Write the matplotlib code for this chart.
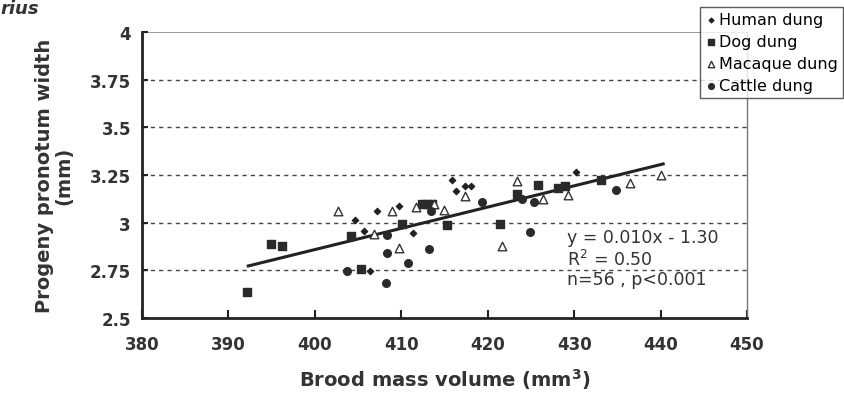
import matplotlib
matplotlib.use("Agg")
import matplotlib.pyplot as plt

# ---- data ----
human_x = [404.6, 405.7, 406.4, 407.2, 409.7, 411.4, 415.9, 416.3, 417.4, 418.1, 430.2]
human_y = [3.014, 2.956, 2.747, 3.060, 3.087, 2.946, 3.224, 3.166, 3.190, 3.192, 3.266]

dog_x = [392.1, 394.9, 396.2, 404.2, 405.3, 410.1, 412.4, 413.0, 413.6, 415.3, 421.4,
         423.4, 425.8, 428.1, 428.9, 433.1]
dog_y = [2.636, 2.888, 2.878, 2.930, 2.757, 2.993, 3.100, 3.100, 3.100, 2.990, 2.993,
         3.150, 3.200, 3.180, 3.190, 3.224]

macaque_x = [402.7, 406.9, 408.9, 409.7, 411.7, 413.8, 414.9, 417.4, 421.7, 423.4,
             426.4, 429.3, 436.5, 440.0]
macaque_y = [3.060, 2.940, 3.060, 2.867, 3.080, 3.100, 3.067, 3.140, 2.878, 3.218,
             3.124, 3.145, 3.210, 3.250]

cattle_x = [403.7, 408.3, 408.3, 408.2, 410.8, 413.2, 413.4, 419.3, 424.0, 424.9,
            425.4, 434.8]
cattle_y = [2.747, 2.935, 2.840, 2.684, 2.790, 2.862, 3.060, 3.108, 3.124, 2.950,
            3.108, 3.170]

trend_x = [392.3, 440.3]
trend_y = [2.773, 3.308]

x_ticks = [380, 390, 400, 410, 420, 430, 440, 450]
y_ticks = [2.5, 2.75, 3.0, 3.25, 3.5, 3.75, 4.0]
y_ticklabels = ["2.5", "2.75", "3", "3.25", "3.5", "3.75", "4"]

labels = ["Human dung", "Dog dung", "Macaque dung", "Cattle dung"]
eq_lines = ["y = 0.010x - 1.30", "R$^2$ = 0.50", "n=56 , p<0.001"]

# ---- figure ----
plt.rcParams['font.family'] = ['DejaVu Sans']
fig = plt.figure(figsize=(8.44, 4.02), dpi=100)
ax = fig.add_axes([142/844, 1 - 319/402, (747-142)/844, (319-33)/402])

ax.set_xlim(380, 450)
ax.set_ylim(2.5, 4.0)

for gy in y_ticks[1:-1]:
    ax.axhline(gy, color='#444444', lw=1.0, ls=(0, (3, 3)), zorder=1)
ax.axhline(4.0, color='#888888', lw=1.2, zorder=1)

ax.plot(trend_x, trend_y, color='#222222', lw=2.2, zorder=3)

h1 = ax.scatter(human_x, human_y, marker='D', s=10, color='#222222', zorder=4)
h2 = ax.scatter(dog_x, dog_y, marker='s', s=30, color='#2a2a2a', zorder=4)
h3 = ax.scatter(macaque_x, macaque_y, marker='^', s=38, facecolor='white',
                edgecolor='#333333', lw=1.0, zorder=4)
h4 = ax.scatter(cattle_x, cattle_y, marker='o', s=30, color='#2a2a2a', zorder=4)

for s in ['left', 'bottom']:
    ax.spines[s].set_linewidth(2.0)
    ax.spines[s].set_color('#222222')
ax.spines['top'].set_visible(False)
ax.spines['right'].set_linewidth(1.0)
ax.spines['right'].set_color('#777777')

ax.set_xticks(x_ticks)
ax.set_yticks(y_ticks)
ax.set_yticklabels(y_ticklabels)
ax.tick_params(axis='x', direction='in', length=6, width=1.5, color='#222222',
               labelsize=12, pad=12)
ax.tick_params(axis='y', direction='in', length=4, width=1.5, color='#222222',
               labelsize=12, pad=8)
for lab in ax.get_xticklabels() + ax.get_yticklabels():
    lab.set_fontweight('bold')
    lab.set_color('#333333')

ax.set_xlabel("Brood mass volume (mm$^\\mathbf{3}$)", fontsize=14, fontweight='bold',
              color='#333333', labelpad=10)
ax.set_ylabel("Progeny pronotum width\n(mm)", fontsize=14, fontweight='bold',
              color='#333333', labelpad=12, linespacing=1.0)

eq_y = [0.283, 0.206, 0.136]
for t, yy in zip(eq_lines, eq_y):
    ax.text(0.702, yy, t, transform=ax.transAxes, fontsize=12.5,
            color='#333333', va='center', ha='left')

leg = fig.legend([h1, h2, h3, h4], labels, loc='upper right',
                 bbox_to_anchor=(843/844, 1 - 8/402), bbox_transform=fig.transFigure,
                 fontsize=11.5, frameon=True, fancybox=False, edgecolor='#333333',
                 handletextpad=0.1, handlelength=0.8, labelspacing=0.45,
                 borderpad=0.3, borderaxespad=0.0, markerscale=0.75)
leg.get_frame().set_linewidth(1.0)

fig.text(0.0, 1.0, "rius", fontsize=13, fontweight='bold', style='italic',
         color='#333333', va='top', ha='left')

fig.savefig("out.png", dpi=100)
